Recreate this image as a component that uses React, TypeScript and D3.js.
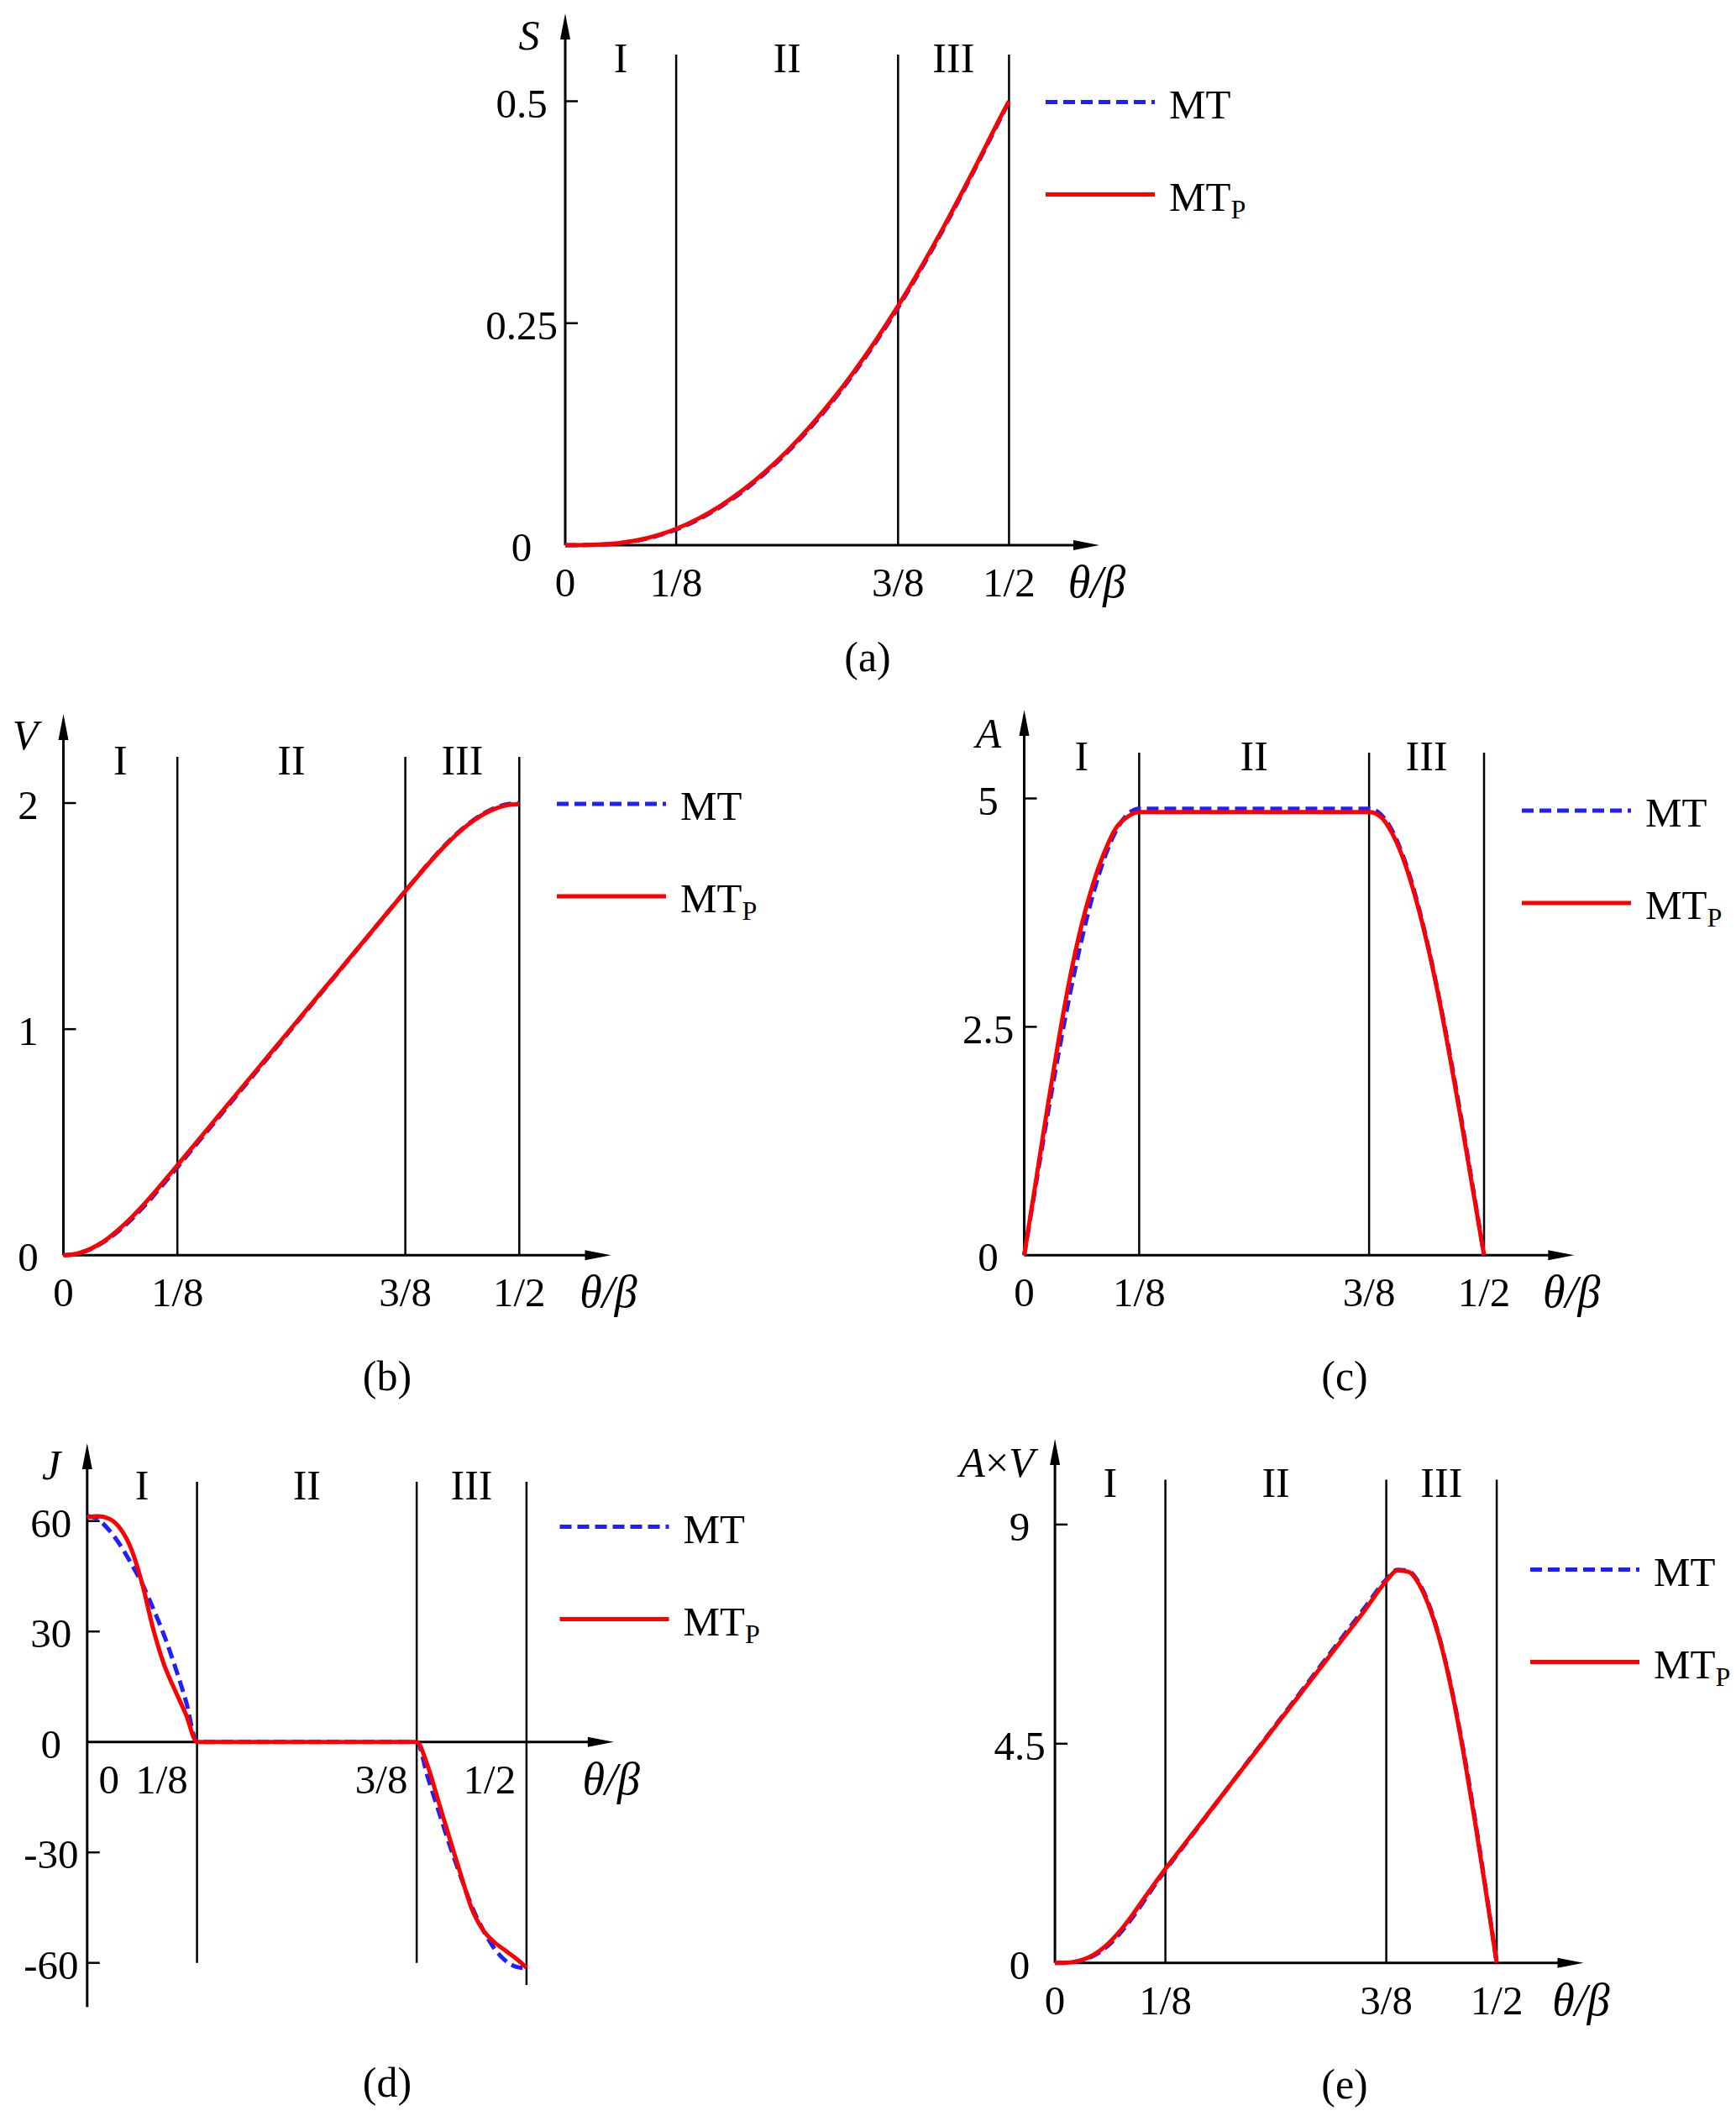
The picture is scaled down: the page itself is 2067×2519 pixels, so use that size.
import React from "react"
import * as d3 from "d3"

// theta/beta sample points: zones I and III every 1/80, zone II every 1/40
const THETA = [
  0, 0.0125, 0.025, 0.0375, 0.05, 0.0625, 0.075, 0.0875, 0.1, 0.1125, 0.125,
  0.15, 0.175, 0.2, 0.225, 0.25, 0.275, 0.3, 0.325, 0.35,
  0.375, 0.3875, 0.4, 0.4125, 0.425, 0.4375, 0.45, 0.4625, 0.475, 0.4875, 0.5,
]

// displacement S
const S_MT = [
  0, 0.00002, 0.00016, 0.00053, 0.00126, 0.00242, 0.00413, 0.00646, 0.00946, 0.01319, 0.01767,
  0.02892, 0.04323, 0.06059, 0.08101, 0.10448, 0.13101, 0.16059, 0.19323, 0.22892,
  0.26767, 0.28819, 0.30946, 0.33145, 0.35413, 0.37742, 0.40125, 0.42553, 0.45016, 0.47502, 0.5,
]
const S_MTP = [
  0, 0.00003, 0.00019, 0.0006, 0.00137, 0.00261, 0.00441, 0.00685, 0.00997, 0.01382, 0.01842,
  0.02989, 0.04438, 0.06191, 0.08247, 0.10606, 0.13268, 0.16234, 0.19502, 0.23074,
  0.26948, 0.28999, 0.31124, 0.33321, 0.35585, 0.3791, 0.40289, 0.42712, 0.45169, 0.47649, 0.5,
]

// velocity V
const V_MT = [
  0, 0.0048, 0.019, 0.0424, 0.0743, 0.1139, 0.1603, 0.2124, 0.2688, 0.3281, 0.389,
  0.5112, 0.6334, 0.7556, 0.8778, 1.0, 1.1222, 1.2444, 1.3666, 1.4888,
  1.611, 1.6719, 1.7312, 1.7876, 1.8397, 1.8861, 1.9257, 1.9576, 1.981, 1.9952, 2.0,
]
const V_MTP = [
  0, 0.005, 0.02, 0.0448, 0.0786, 0.1203, 0.1683, 0.2214, 0.2783, 0.3376, 0.3979,
  0.5193, 0.6405, 0.7618, 0.883, 1.0043, 1.1255, 1.2468, 1.368, 1.4893,
  1.6105, 1.6708, 1.7297, 1.7856, 1.8372, 1.8833, 1.9227, 1.9543, 1.9772, 1.9911, 1.9957,
]

// acceleration A
const A_MT = [
  0, 0.7647, 1.5105, 2.2191, 2.8732, 3.4564, 3.9546, 4.3554, 4.6489, 4.8279, 4.8881,
  4.8881, 4.8881, 4.8881, 4.8881, 4.8881, 4.8881, 4.8881, 4.8881, 4.8881,
  4.8881, 4.8279, 4.6489, 4.3554, 3.9546, 3.4564, 2.8732, 2.2191, 1.5105, 0.7647, 0,
]
const A_MTP = [
  0, 0.8, 1.6, 2.36, 3.05, 3.62, 4.07, 4.42, 4.68, 4.8, 4.85,
  4.85, 4.85, 4.85, 4.85, 4.85, 4.85, 4.85, 4.85, 4.85,
  4.85, 4.8, 4.62, 4.33, 3.93, 3.44, 2.86, 2.19, 1.48, 0.74, 0,
]

// jerk J
const J_MT = [
  61.4, 60.4, 57.5, 53.5, 48.5, 43.0, 36.3, 29.0, 20.5, 11.0, 0,
  0, 0, 0, 0, 0, 0, 0, 0, 0,
  0, -9.5, -18.8, -28.0, -36.5, -44.5, -50.8, -55.8, -59.2, -61.0, -61.5,
]
const J_MTP = [
  61.0, 61.3, 60.6, 58.0, 52.5, 43.1, 30.8, 21.0, 14.0, 7.4, 0,
  0, 0, 0, 0, 0, 0, 0, 0, 0,
  0, -6.5, -16.3, -26.2, -35.9, -45.2, -50.9, -54.2, -56.5, -58.7, -61.3,
]

// A x V
const AV_MT = [
  0, 0.0037, 0.0288, 0.0941, 0.2135, 0.3938, 0.6341, 0.925, 1.2495, 1.5842, 1.9014,
  2.4987, 3.0961, 3.6934, 4.2907, 4.8881, 5.4854, 6.0828, 6.6801, 7.2775,
  7.8748, 8.0715, 8.0482, 7.7857, 7.2751, 6.519, 5.5329, 4.3441, 2.9922, 1.5257, 0,
]
const AV_MTP = [
  0, 0.004, 0.032, 0.1057, 0.2397, 0.4355, 0.685, 0.9786, 1.3024, 1.6205, 1.9298,
  2.5186, 3.1064, 3.6947, 4.2826, 4.8709, 5.4587, 6.047, 6.6348, 7.2231,
  7.8409, 8.0598, 8.0312, 7.7616, 7.2402, 6.4986, 5.5089, 4.2999, 2.9463, 1.4934, 0,
]

const X_TICKS = [0, 0.125, 0.375, 0.5]
const X_TICK_LABELS = ["0", "1/8", "3/8", "1/2"]
const ZONE_LINES = [0.125, 0.375, 0.5]
const ZONE_MIDS = [0.0625, 0.25, 0.4375]
const ZONE_NAMES = ["I", "II", "III"]

const S_TICKS = [0, 0.25, 0.5]
const V_TICKS = [0, 1, 2]
const A_TICKS = [0, 2.5, 5]
const J_TICKS = [-60, -30, 0, 30, 60]
const AV_TICKS = [0, 4.5, 9]

const FONT = "'Liberation Serif', 'Times New Roman', serif"
const BLUE = "#1f1fff"
const RED = "#ff0000"

const panels = [
  {
    key: "a", mt: S_MT, mtp: S_MTP, ticks: S_TICKS, yDomain: [0, 0.5],
    x0: 673, x1: 1201.4, yB: 649, yT: 120.5, axisTop: 16, axisRight: 1309, vTop: 65,
    yLabelDx: -52, title: ["S"], titleX: 630, titleY: 41,
    legendX: 1245, legendY: 121.5, caption: "(a)", capX: 1033, capY: 781,
  },
  {
    key: "b", mt: V_MT, mtp: V_MTP, ticks: V_TICKS, yDomain: [0, 2],
    x0: 75.5, x1: 618.3, yB: 1494.3, yT: 956, axisTop: 850, axisRight: 727.5, vTop: 901,
    yLabelDx: -42, title: ["V"], titleX: 30, titleY: 874,
    legendX: 663, legendY: 957, caption: "(b)", capX: 461, capY: 1637,
  },
  {
    key: "c", mt: A_MT, mtp: A_MTP, ticks: A_TICKS, yDomain: [0, 5],
    x0: 1219.5, x1: 1767, yB: 1494.3, yT: 950.5, axisTop: 845, axisRight: 1874.3, vTop: 896,
    yLabelDx: -43, title: ["A"], titleX: 1177, titleY: 872,
    legendX: 1812, legendY: 965, caption: "(c)", capX: 1601, capY: 1637,
  },
  {
    key: "d", mt: J_MT, mtp: J_MTP, ticks: J_TICKS, yDomain: [-60, 60],
    x0: 103.8, x1: 626.9, yB: 2336.7, yT: 1810.7, axisTop: 1718, axisRight: 730.8, vTop: 1764,
    axisBottom: -72, zoneBottom: [-60, -60, -66], xLabelDx: [26, -42, -42, -44],
    yLabelDx: -43, title: ["J"], titleX: 61, titleY: 1743,
    legendX: 666.5, legendY: 1817.5, caption: "(d)", capX: 461, capY: 2478,
  },
  {
    key: "e", mt: AV_MT, mtp: AV_MTP, ticks: AV_TICKS, yDomain: [0, 9],
    x0: 1256.1, x1: 1782.1, yB: 2336.7, yT: 1814.9, axisTop: 1713, axisRight: 1885.5, vTop: 1761.6,
    yLabelDx: -42, title: ["A", "×", "V"], titleX: 1187, titleY: 1740.5,
    legendX: 1822, legendY: 1868.5, caption: "(e)", capX: 1601, capY: 2480,
  },
]

function Panel({ cfg }: { cfg: any }) {
  const x = d3.scaleLinear().domain([0, 0.5]).range([cfg.x0, cfg.x1])
  const y = d3.scaleLinear().domain(cfg.yDomain).range([cfg.yB, cfg.yT])
  const line = d3
    .line<number>()
    .x((_, i) => x(THETA[i]))
    .y(d => y(d))
    .curve(d3.curveMonotoneX)
  const y0 = y(0)
  const ax = x(0)
  const yAxisBottom = cfg.axisBottom !== undefined ? y(cfg.axisBottom) : y0

  return (
    <g>
      {/* zone dividers */}
      {ZONE_LINES.map((t, i) => (
        <line
          key={"z" + t}
          x1={x(t)} x2={x(t)}
          y1={cfg.vTop}
          y2={cfg.zoneBottom ? y(cfg.zoneBottom[i]) : y0}
          stroke="#000" strokeWidth={2.5}
        />
      ))}
      {ZONE_NAMES.map((n, i) => (
        <text key={n} x={x(ZONE_MIDS[i])} y={cfg.vTop + 3} dy="0.35em"
          textAnchor="middle" fontSize={50}>{n}</text>
      ))}

      {/* axes */}
      <line x1={ax} x2={ax} y1={yAxisBottom} y2={cfg.axisTop + 20} stroke="#000" strokeWidth={3} />
      <path d={`M${ax},${cfg.axisTop} L${ax - 6},${cfg.axisTop + 31} L${ax + 6},${cfg.axisTop + 31} Z`} fill="#000" />
      <line x1={ax} x2={cfg.axisRight - 20} y1={y0} y2={y0} stroke="#000" strokeWidth={3} />
      <path d={`M${cfg.axisRight},${y0} L${cfg.axisRight - 31},${y0 - 6} L${cfg.axisRight - 31},${y0 + 6} Z`} fill="#000" />

      {cfg.ticks.filter((v: number) => v !== 0).map((v: number) => (
        <line key={"t" + v} x1={ax} x2={ax + 15} y1={y(v)} y2={y(v)} stroke="#000" strokeWidth={2.5} />
      ))}
      {cfg.ticks.map((v: number) => (
        <text key={"yl" + v} x={ax + cfg.yLabelDx} y={y(v) + 2} dy="0.35em"
          textAnchor="middle" fontSize={49}>{String(v)}</text>
      ))}
      {X_TICKS.map((t, i) => (
        <text key={"xl" + t} x={x(t) + (cfg.xLabelDx ? cfg.xLabelDx[i] : 0)} y={y0 + 44} dy="0.35em"
          textAnchor="middle" fontSize={49}>{X_TICK_LABELS[i]}</text>
      ))}
      <text x={cfg.axisRight - 3} y={y0 + 43} dy="0.35em" textAnchor="middle"
        fontSize={54} fontStyle="italic">θ/β</text>

      {/* axis title */}
      <text x={cfg.titleX} y={cfg.titleY} dy="0.35em" textAnchor="middle" fontSize={50}>
        {cfg.title.map((s: string, i: number) => (
          <tspan key={i} fontStyle={s === "×" ? "normal" : "italic"}>{s}</tspan>
        ))}
      </text>

      {/* curves */}
      <path d={line(cfg.mt) || ""} fill="none" stroke={BLUE} strokeWidth={5} strokeDasharray="14 7" />
      <path d={line(cfg.mtp) || ""} fill="none" stroke={RED} strokeWidth={5} strokeLinejoin="round" />

      {/* legend */}
      <line x1={cfg.legendX} x2={cfg.legendX + 130} y1={cfg.legendY} y2={cfg.legendY}
        stroke={BLUE} strokeWidth={5} strokeDasharray="14 7" />
      <text x={cfg.legendX + 147} y={cfg.legendY + 2} dy="0.35em" fontSize={49}>MT</text>
      <line x1={cfg.legendX} x2={cfg.legendX + 130} y1={cfg.legendY + 110} y2={cfg.legendY + 110}
        stroke={RED} strokeWidth={5} />
      <text x={cfg.legendX + 147} y={cfg.legendY + 112} dy="0.35em" fontSize={49}>
        MT<tspan fontSize={32} dy={9}>P</tspan>
      </text>

      <text x={cfg.capX} y={cfg.capY} dy="0.35em" textAnchor="middle" fontSize={50}>{cfg.caption}</text>
    </g>
  )
}

export default function App() {
  return (
    <svg
      width={2067}
      height={2519}
      style={{ position: "absolute", left: 0, top: 0, background: "#fff" }}
      fontFamily={FONT}
      fill="#000"
    >
      {panels.map(p => (
        <Panel key={p.key} cfg={p} />
      ))}
    </svg>
  )
}
